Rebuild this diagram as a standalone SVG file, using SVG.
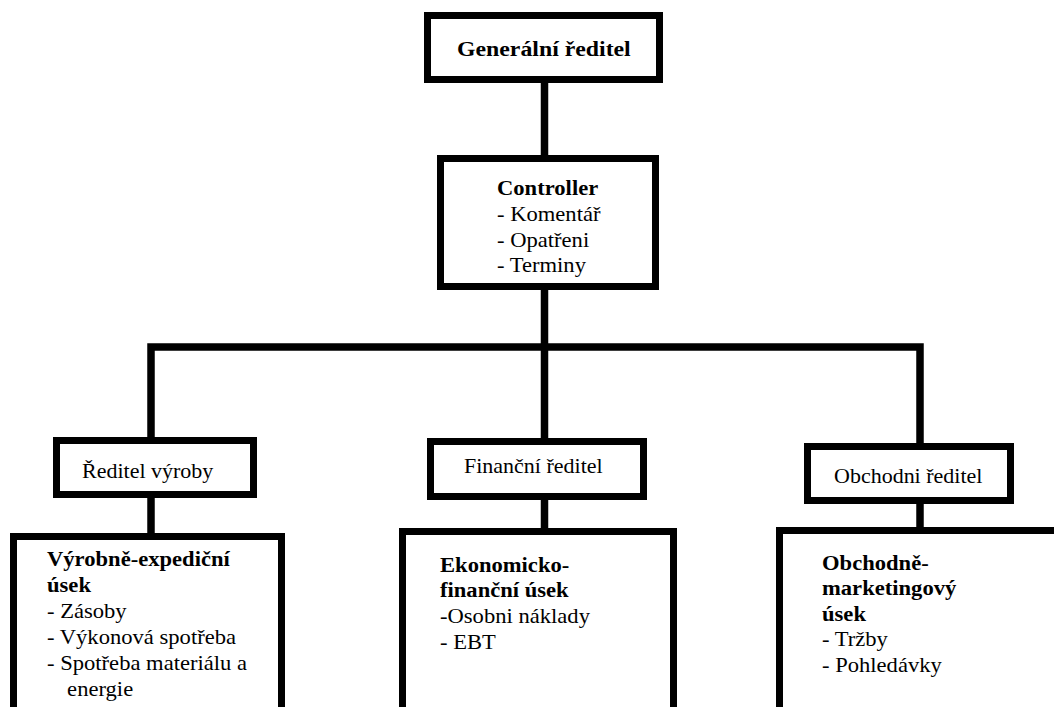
<svg xmlns="http://www.w3.org/2000/svg" width="1054" height="707" viewBox="0 0 1054 707">
<style>
.box{fill:#fff;stroke:#000;stroke-width:7}
.con{fill:none;stroke:#000;stroke-width:7.5;stroke-linejoin:miter;stroke-linecap:butt}
text{font-family:"Liberation Serif","Times New Roman",serif;font-size:20px;fill:#000}
.b{font-weight:bold}
</style>
<rect width="1054" height="707" fill="#fff"/>
<g id="connectors">
<line class="con" x1="544.5" y1="80" x2="544.5" y2="158"/>
<line class="con" x1="544.5" y1="286" x2="544.5" y2="441"/>
<path class="con" d="M151,440 V347 H920 V446"/>
<line class="con" x1="151" y1="495" x2="151" y2="536"/>
<line class="con" x1="544.5" y1="497" x2="544.5" y2="531"/>
<line class="con" x1="920" y1="501" x2="920" y2="530"/>
</g>
<g id="generalni">
<rect class="box" x="427.5" y="15.5" width="232" height="64"/>
<g transform="translate(457,56) scale(1.19,1)"><text class="b" x="0" y="0">Generální ředitel</text></g>
</g>
<g id="controller">
<rect class="box" x="440.5" y="158.5" width="215" height="128"/>
<g transform="translate(497,195) scale(1.13,1)"><text><tspan class="b" x="0" y="0">Controller</tspan><tspan x="0" y="26">- Komentář</tspan><tspan x="0" y="52">- Opatřeni</tspan><tspan x="0" y="77">- Terminy</tspan></text></g>
</g>
<g id="reditel-vyroby">
<rect class="box" x="56.5" y="440.5" width="197" height="54"/>
<g transform="translate(82,478) scale(1.1,1)"><text x="0" y="0">Ředitel výroby</text></g>
</g>
<g id="financni-reditel">
<rect class="box" x="430.5" y="441.5" width="213" height="55"/>
<g transform="translate(464,473) scale(1.1,1)"><text x="0" y="0">Finanční ředitel</text></g>
</g>
<g id="obchodni-reditel">
<rect class="box" x="807.5" y="446.5" width="203" height="54"/>
<g transform="translate(834,483) scale(1.1,1)"><text x="0" y="0">Obchodni ředitel</text></g>
</g>
<g id="vyrobne-expedicni">
<rect class="box" x="13.5" y="536.5" width="268" height="240"/>
<g transform="translate(47,566) scale(1.13,1)"><text><tspan class="b" x="0" y="0">Výrobně-expediční</tspan><tspan class="b" x="0" y="26">úsek</tspan><tspan x="0" y="52">- Zásoby</tspan><tspan x="0" y="78">- Výkonová spotřeba</tspan><tspan x="0" y="104.5">- Spotřeba materiálu a</tspan><tspan x="17.8" y="130">energie</tspan></text></g>
</g>
<g id="ekonomicko-financni">
<rect class="box" x="402.5" y="531.5" width="271" height="240"/>
<g transform="translate(440,572) scale(1.13,1)"><text><tspan class="b" x="0" y="0">Ekonomicko-</tspan><tspan class="b" x="0" y="25.5">finanční úsek</tspan><tspan x="0" y="51">-Osobni náklady</tspan><tspan x="0" y="77">- EBT</tspan></text></g>
</g>
<g id="obchodne-marketingovy">
<rect class="box" x="779.5" y="530.5" width="300" height="240"/>
<g transform="translate(822,570) scale(1.13,1)"><text><tspan class="b" x="0" y="0">Obchodně-</tspan><tspan class="b" x="0" y="25.5">marketingový</tspan><tspan class="b" x="0" y="51">úsek</tspan><tspan x="0" y="76.5">- Tržby</tspan><tspan x="0" y="102">- Pohledávky</tspan></text></g>
</g>
</svg>
